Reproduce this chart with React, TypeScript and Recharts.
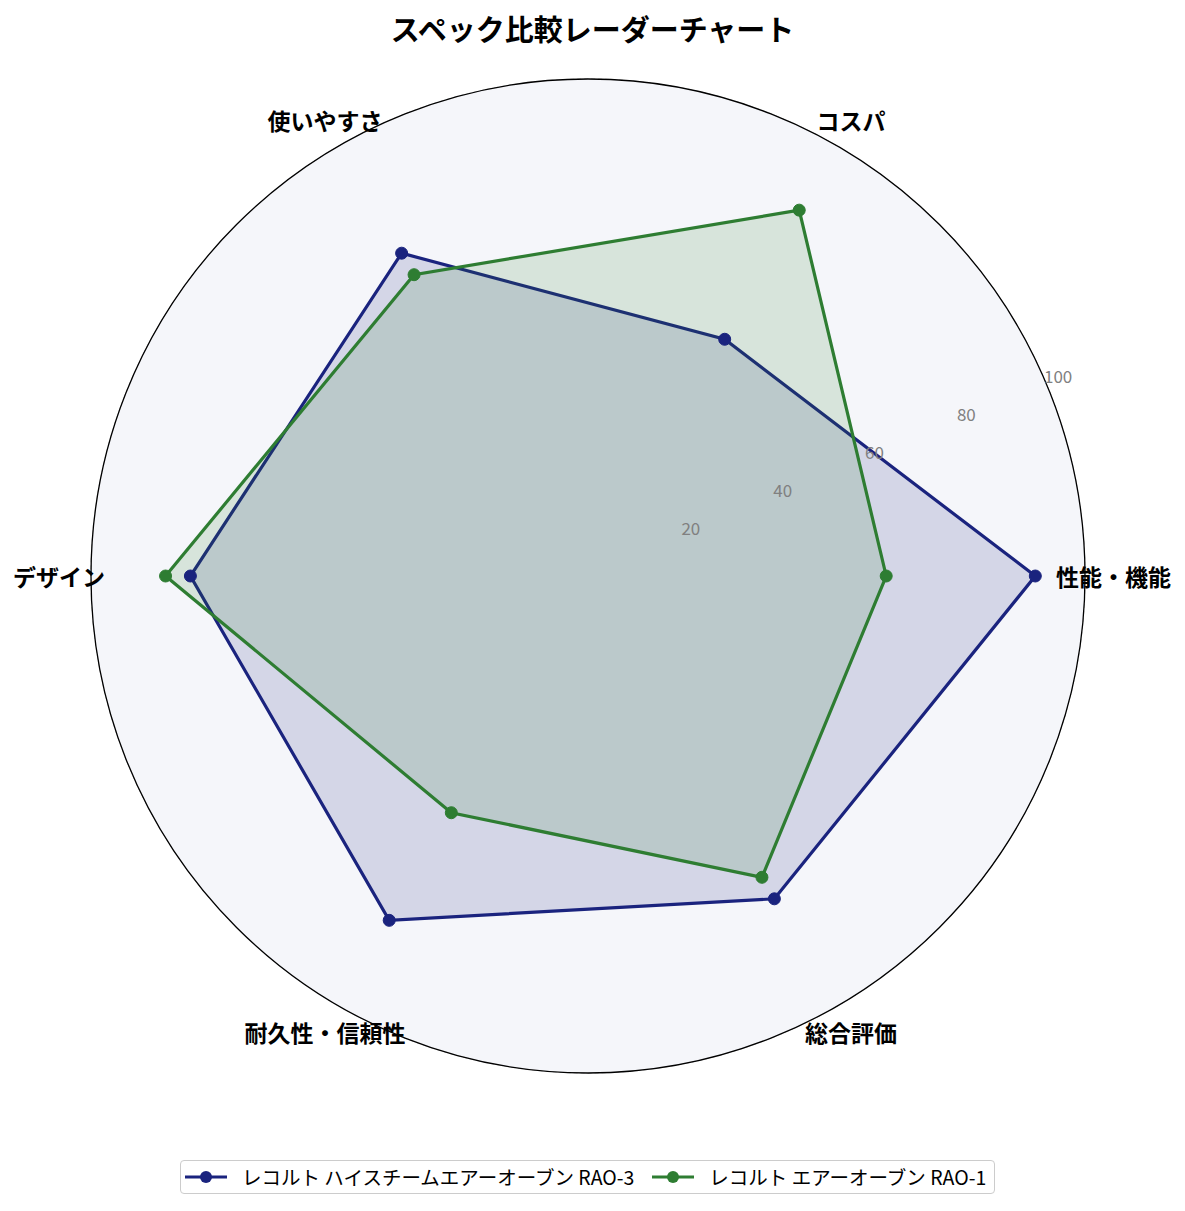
import { RadarChart, PolarGrid, PolarAngleAxis, PolarRadiusAxis, Radar, Legend, Customized } from 'recharts';

const categories = ['性能・機能', 'コスパ', '使いやすさ', 'デザイン', '耐久性・信頼性', '総合評価'];
const rao3Values = [90, 55, 75, 80, 80, 75];
const rao1Values = [60, 85, 70, 85, 55, 70];
const seriesNames = ['レコルト ハイスチームエアーオーブン RAO-3', 'レコルト エアーオーブン RAO-1'];
const radiusTicks = [0, 20, 40, 60, 80, 100];

const data = categories.map((c, i) => ({ subject: c, rao3: rao3Values[i], rao1: rao1Values[i] }));

const W = 1169;
const H = 1195;
const CX = 580;
const CY = 568;
const R = 497;
const NAVY = '#1a237e';
const GREEN = '#2e7d32';
const FONT = '"Noto Sans CJK JP", "Noto Sans", sans-serif';

// label angle follows the category order, counter-clockwise from the right
function AngleTick(props: any) {
  const { payload, index } = props;
  const i = typeof index === 'number' ? index : categories.indexOf(payload.value);
  const a = (-(360 / categories.length) * i * Math.PI) / 180;
  const cos = Math.cos(a);
  const sin = Math.sin(a);
  let x, y, anchor;
  if (Math.abs(cos) > 0.99) {
    x = CX + cos * (cos > 0 ? 468 : 483);
    y = CY;
    anchor = cos > 0 ? 'start' : 'end';
  } else {
    x = CX + cos * 526;
    y = CY + sin * 526;
    anchor = 'middle';
  }
  return (
    <text x={x} y={y} textAnchor={anchor} dominantBaseline="central" fontSize={23} fontWeight="bold" fill="#000" fontFamily={FONT}>
      {payload.value}
    </text>
  );
}

function RadiusTick(props: any) {
  const { x, y, payload } = props;
  if (payload.value === 0) return null;
  return (
    <text x={x + 11} y={y - 10} textAnchor="middle" dominantBaseline="central" fontSize={17} fill="#808080" fontFamily={FONT}>
      {payload.value}
    </text>
  );
}

function renderLegend() {
  const colors = [NAVY, GREEN];
  return (
    <div
      style={{
        display: 'flex',
        alignItems: 'center',
        border: '1.5px solid #cccccc',
        borderRadius: 4,
        padding: '2px 8px 2px 4px',
        background: '#fff',
        fontFamily: FONT,
        fontSize: 19.5,
        lineHeight: '28px',
        color: '#000',
        gap: 18,
      }}
    >
      {seriesNames.map((name, i) => (
        <div key={name} style={{ display: 'flex', alignItems: 'center', gap: 15 }}>
          <svg width={42} height={14}>
            <line x1={0} y1={7} x2={42} y2={7} stroke={colors[i]} strokeWidth={3.2} />
            <circle cx={21} cy={7} r={6} fill={colors[i]} />
          </svg>
          <span>{name}</span>
        </div>
      ))}
    </div>
  );
}

function Background() {
  return <circle cx={CX} cy={CY} r={R} fill="#f5f6fa" stroke="none" />;
}

function OuterRing() {
  return <circle cx={CX} cy={CY} r={R} fill="none" stroke="#000" strokeWidth={1.3} />;
}

export default function App() {
  return (
    <div style={{ position: 'relative', width: W, height: H, background: '#fff' }}>
      <div
        style={{
          position: 'absolute',
          top: 0,
          left: 0,
          width: W,
          lineHeight: '40px',
          textAlign: 'center',
          fontFamily: FONT,
          fontWeight: 'bold',
          fontSize: 29,
          zIndex: 2,
        }}
      >
        スペック比較レーダーチャート
      </div>
      <RadarChart
        width={W}
        height={H}
        data={data}
        cx={CX}
        cy={CY}
        outerRadius={R}
        startAngle={-60}
        endAngle={300}
        margin={{ top: 0, right: 0, bottom: 0, left: 0 }}
      >
        <Customized component={Background} />
        <PolarGrid gridType="circle" stroke="#a0a0a0" strokeDasharray="4 3" strokeWidth={0.8} />
        <Customized component={OuterRing} />
        <PolarAngleAxis dataKey="subject" tick={<AngleTick />} tickLine={false} axisLine={false} />
        <PolarRadiusAxis
          angle={22.5}
          domain={[0, 100]}
          ticks={radiusTicks as any}
          tickCount={6}
          tick={<RadiusTick />}
          axisLine={false}
          tickLine={false}
        />
        <Radar
          name={seriesNames[0]}
          dataKey="rao3"
          stroke={NAVY}
          strokeWidth={3.2}
          fill={NAVY}
          fillOpacity={0.15}
          dot={{ r: 6, fill: NAVY, stroke: NAVY, strokeWidth: 1, fillOpacity: 1 }}
          isAnimationActive={false}
        />
        <Radar
          name={seriesNames[1]}
          dataKey="rao1"
          stroke={GREEN}
          strokeWidth={3.2}
          fill={GREEN}
          fillOpacity={0.15}
          dot={{ r: 6, fill: GREEN, stroke: GREEN, strokeWidth: 1, fillOpacity: 1 }}
          isAnimationActive={false}
        />
        <Legend content={renderLegend} wrapperStyle={{ position: 'absolute', left: 172, top: 1152, width: 'auto' }} />
      </RadarChart>
    </div>
  );
}
